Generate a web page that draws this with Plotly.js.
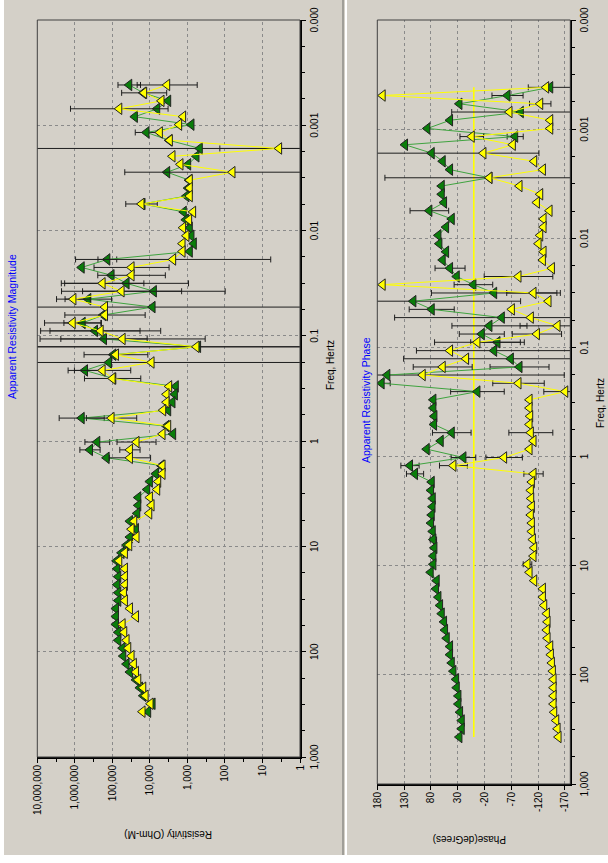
<!DOCTYPE html>
<html><head><meta charset="utf-8">
<script src="https://cdn.plot.ly/plotly-3.0.1.min.js"></script>
<style>
html,body{margin:0;padding:0;background:#fff;width:608px;height:863px;overflow:hidden;}
#rot{position:absolute;left:0;top:0;width:863px;height:608px;transform-origin:0 0;background:#fff;}
#bg{position:absolute;left:8px;top:4px;width:855px;height:604px;background:#d4d0c8;}
#sep1{position:absolute;left:8px;top:342px;width:855px;height:2px;background:#a09e98;}
#sep2{position:absolute;left:8px;top:345px;width:855px;height:2px;background:#ffffff;}
#chart{position:absolute;left:0;top:0;width:863px;height:608px;}
</style></head>
<body>
<div id="rot"><div id="bg"></div><div id="sep1"></div><div id="sep2"></div><div id="chart"></div></div>
<script>
// ---- data ----
const freq = [0.000414,0.000492,0.000586,0.000697,0.000829,0.000986,0.00117,0.00139,0.00166,0.00197,
 0.00235,0.00279,0.00332,0.00395,0.00470,0.00559,0.00665,0.00790,0.00940,0.0112,
 0.0133,0.0158,0.0188,0.0224,0.0266,0.0317,0.0377,0.0448,0.0533,0.0634,
 0.0754,0.0897,0.107,0.127,0.151,0.179,0.213,0.254,0.302,0.359,
 0.427,0.508,0.604,0.719,0.855,1.02,1.21,1.44,1.71,2.04,
 2.42,2.88,3.43,4.07,4.85,5.76,6.86,8.15,9.70,11.5,
 13.7,16.3,19.4,23.1,27.5,32.7,38.9,46.2,55.0,65.4,
 77.8,92.5,110,131,156,185,220,262,312,371];

const rhoGreen = [35500,15000,3250,6380,25100,780,12300,3060,468,574,
 955,3460,899,955,1060,15700,1250,1100,864,780,
 676,864,136000,656000,105000,41800,7830,437000,8490,174000,
 618000,290000,167000,519,94400,123000,536000,94400,2040,2160,
 2500,3250,656000,3600,2400,252000,394000,142000,4900,6920,
 10000,11800,20400,20400,21700,34000,23500,34000,41800,56800,
 77100,74000,69500,74000,69500,69500,80200,80200,80200,69500,
 69500,53300,51200,41800,34000,23500,18400,15000,8490,11100];

const rhoYellow = [3460,14200,4900,65400,1300,1660,5420,2940,3.6,2500,
 1530,63,864,864,864,16700,705,899,1300,1060,
 1350,1350,2400,30800,30800,182000,56800,1090000,157000,157000,
 1140000,205000,53300,574,80200,9030,182000,98400,3060,3600,
 3600,4420,105000,3250,4600,22700,34000,34000,4600,4600,
 6000,6380,10000,9030,10400,26100,30800,22700,35500,46300,
 65400,46300,46300,46300,49100,46300,34000,23500,53300,48200,
 41800,37700,30800,26700,23500,20400,15000,13000,9600,15700];

// error half-widths in decades (null = no bar)
const rhoErrGreen = [0.3,null,null,null,null,null,0.3,null,8,null,
 null,null,null,null,null,null,null,null,null,null,
 null,null,0.25,null,null,1.65,1.9,0.62,8,null,
 0.5,1.2,1.15,8,null,8,0.45,null,null,null,
 null,null,0.6,null,null,0.33,0.27,null,null,null,
 null,null,null,null,null,null,null,null,null,null,
 null,null,null,null,null,null,null,null,null,null,
 null,null,null,null,null,null,null,null,null,null];
const rhoErrYellow = [0.8,0.6,null,1.3,null,null,null,null,1.58,null,
 null,2.87,null,null,null,0.42,null,null,null,null,
 null,null,2.6,1.0,0.9,1.1,1.6,0.45,null,1.07,
 0.75,1.6,2.2,8,0.85,null,0.75,0.75,null,null,
 null,null,0.67,null,null,0.52,0.27,0.55,null,null,
 null,null,null,null,null,null,null,null,null,null,
 null,null,null,null,null,null,null,null,null,null,
 null,null,null,null,null,null,null,null,null,null];

const phaseGreen = [-142.6,-62.9,26.8,-87.8,44.3,86.6,-77.2,128.3,78.5,58,
 44.3,-29.2,59.8,59.8,55.5,82.9,41.1,51.7,66,64.2,
 51.7,58,44.3,31.8,0.7,-38,112.7,78.5,-52.3,-29.2,
 -14.9,-44.2,-38,-69.1,-85.3,161.3,171.9,-6.8,75.4,75.4,
 73.5,74.1,41.1,61.7,87.8,19.3,119,109.6,78.5,79.7,
 76.6,77,78.5,79.7,76.6,75.4,73.5,75.4,75.4,80.4,
 69.2,70.4,66,62.9,59.8,55.5,53.6,50.5,44.3,44.3,
 41.1,38,33,31.8,28.7,28.7,25.6,22.5,22.5,26.8];

const phaseYellow = [-135,170,-123.9,-66.6,-142.6,-142.6,3.8,-72.8,-18,-112.7,
 -128.9,-29.2,-85.3,-123.9,-117.7,-141.3,-130.1,-130.1,-123.9,-120.8,
 -130.1,-128.9,-145.7,-83.4,170,-111.4,-139.4,-71,-106.4,-156.3,
 -117.7,-6.8,44.3,14.4,58,95.3,-83.4,-170.6,-104,-104,
 -105.2,-104,-106.4,-111.4,-104,-56.6,38,-111.4,-108.3,-106.4,
 -107.1,-108.3,-106.4,-108.3,-108.3,-110.2,-112.7,-111.4,-100.2,-104,
 -112.7,-128.9,-128.9,-131.4,-136.3,-137.6,-136.3,-137.6,-142.6,-143.8,
 -145.7,-147.5,-148.8,-148.8,-148.8,-148.8,-150,-153.8,-156.3,-158.1];

// phase error half-widths in degrees
const phaseErrGreen = [41,29,null,129,null,null,15,null,200,null,
 null,195,null,null,null,36,null,null,null,null,
 null,null,28,null,36,117,200,42,200,70,
 42,50,145,200,55,330,16,50,null,null,
 null,null,36,null,null,23,17,16,null,null,
 null,null,null,null,null,6,null,null,null,null,
 null,null,null,null,null,null,null,null,null,null,
 null,null,null,null,null,null,null,null,null,null];
const phaseErrYellow = [null,null,20,null,null,null,22,null,null,null,
 null,null,null,null,null,null,null,null,null,null,
 null,null,null,64,null,50,null,null,null,70,
 46,80,null,null,55,null,48,40,null,null,
 null,null,41,null,null,34,26,18,null,null,
 null,null,null,null,null,null,null,null,8,null,
 null,null,null,null,null,null,null,null,null,null,
 null,null,null,null,null,null,null,null,null,null];

const phaseRefLine = [0, 0];

const freqTicks = [1000,100,10,1,0.1,0.01,0.001,0.0001];
const freqTickText = ['1,000','100','10','1','0.1','0.01','0.001','0.000'];
const rhoTicks = [1,10,100,1000,1e4,1e5,1e6,1e7];
const rhoTickText = ['1','10','100','1,000','10,000','100,000','1,000,000','10,000,000'];
const phaseTicks = [180,130,80,30,-20,-70,-120,-170];
const phaseTickText = ['180','130','80','30','-20','-70','-120','-170'];

// ---- build ----
const W = 863, H = 608;
const FONT = 'Liberation Sans, Arial, sans-serif';
const GREEN = '#0a7d0a', GREENLINE = '#3fa33f', YELLOW = '#ffff00', EDGE = '#222222';

const minorFreq = [];
for (let d = -4; d < 3; d++) for (const q of [0.25, 0.5, 0.75]) minorFreq.push(Math.pow(10, d + q));
const minorRho = [];
for (let d = 0; d < 7; d++) minorRho.push(Math.pow(10, d + 0.5));

function logErr(vals, dec) {
  return {type:'data', symmetric:false, visible:true, color:'#1e1e1e', thickness:1, width:3,
    array: vals.map((v,i)=> dec[i]==null ? NaN : v*(Math.pow(10,dec[i])-1)),
    arrayminus: vals.map((v,i)=> dec[i]==null ? NaN : v*(1-Math.pow(10,-dec[i])))};
}
function linErr(e) {
  return {type:'data', symmetric:true, visible:true, color:'#1e1e1e', thickness:1, width:3,
    array: e.map(x=> x==null ? NaN : x)};
}
function series(x, y, err, fill, lineColor, xa, ya) {
  return {x:x, y:y, xaxis:xa, yaxis:ya, type:'scatter', mode:'lines+markers',
    line:{color:lineColor, width:1},
    marker:{symbol:'triangle-up', size:10, color:fill, line:{color:EDGE, width:1}},
    error_y: err, showlegend:false, hoverinfo:'skip'};
}

const traces = [
  {x:[freq[0], freq[freq.length-1]], y:phaseRefLine, xaxis:'x2', yaxis:'y2', type:'scatter', mode:'lines',
   line:{color:YELLOW, width:1.6}, showlegend:false, hoverinfo:'skip'},
  series(freq, rhoGreen, logErr(rhoGreen, rhoErrGreen), GREEN, GREENLINE, 'x', 'y'),
  series(freq, rhoYellow, logErr(rhoYellow, rhoErrYellow), YELLOW, YELLOW, 'x', 'y'),
  series(freq, phaseGreen, linErr(phaseErrGreen), GREEN, GREENLINE, 'x2', 'y2'),
  series(freq, phaseYellow, linErr(phaseErrYellow), YELLOW, YELLOW, 'x2', 'y2')
];

const axisBase = {showgrid:true, gridcolor:'#8a8a8a', griddash:'3px,3px', gridwidth:1, zeroline:false,
  showline:true, linecolor:'#000', linewidth:2, ticks:'outside', ticklen:4, tickcolor:'#000',
  tickangle:0, tickmode:'array', tickfont:{family:FONT, size:10, color:'#000'}};

function freqAxis(dom, anchor) {
  return Object.assign({}, axisBase, {type:'log', domain:dom, range:[3,-4], anchor:anchor,
    tickvals:freqTicks, ticktext:freqTickText,
    minor:{tickmode:'array', tickvals:minorFreq, ticks:'outside', ticklen:3, tickcolor:'#000', showgrid:false}});
}

const layout = {
  width:W, height:H, margin:{l:0,r:0,t:0,b:0},
  paper_bgcolor:'rgba(0,0,0,0)', plot_bgcolor:'rgba(0,0,0,0)',
  font:{family:FONT, size:10, color:'#000'},
  xaxis: freqAxis([106/W, 843/W], 'y'),
  xaxis2: freqAxis([79/W, 843/W], 'y2'),
  yaxis: Object.assign({}, axisBase, {type:'log', domain:[1-300/H, 1-37.3/H], range:[0,7], anchor:'x',
    tickvals:rhoTicks, ticktext:rhoTickText,
    minor:{tickmode:'array', tickvals:minorRho, ticks:'outside', ticklen:3, tickcolor:'#000', showgrid:false}}),
  yaxis2: Object.assign({}, axisBase, {domain:[1-570.3/H, 1-377.3/H], range:[-180,180], anchor:'x2',
    tickvals:phaseTicks, ticktext:phaseTickText}),
  shapes:[
    {type:'rect', xref:'x domain', yref:'y domain', x0:0, x1:1, y0:0, y1:1, line:{color:'#404040', width:1}, layer:'above'},
    {type:'rect', xref:'x2 domain', yref:'y2 domain', x0:0, x1:1, y0:0, y1:1, line:{color:'#404040', width:1}, layer:'above'}
  ],
  annotations:[]
};
function ann(text, px, py, opt) {
  layout.annotations.push(Object.assign({text:text, xref:'paper', yref:'paper', x:px/W, y:1-py/H,
    xanchor:'center', yanchor:'middle', showarrow:false, font:{family:FONT, size:10, color:'#000'}}, opt||{}));
}
ann('Apparent Resistivity Magnitude', 536, 12, {font:{family:FONT, size:10.5, color:'#0000ff'}});
ann('Apparent Resistivity Phase', 463, 366, {font:{family:FONT, size:10.5, color:'#0000ff'}});
ann('Freq, Hertz', 498, 330);
ann('Freq, Hertz', 460, 600);
ann('Resistivity (Ohm-M)', 28, 168, {textangle:-90});
ann('Phase(deGrees)', 23, 470, {textangle:-90});

Plotly.newPlot('chart', traces, layout, {staticPlot:true, displayModeBar:false}).then(function(){
  document.getElementById('rot').style.transform = 'translate(0px,863px) rotate(-90deg)';
});
</script>
</body></html>
